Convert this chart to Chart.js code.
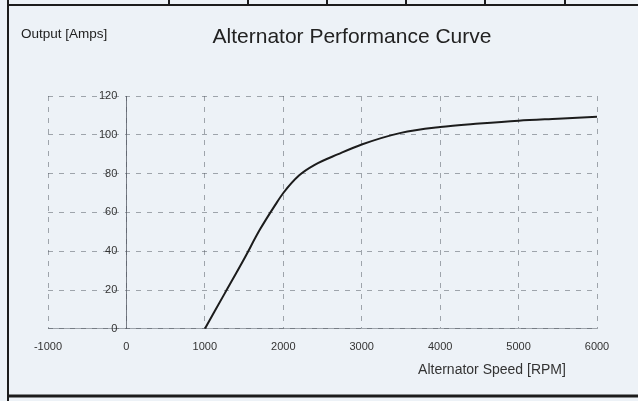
<!DOCTYPE html>
<html>
<head>
<meta charset="utf-8">
<title>Alternator Performance Curve</title>
<script src="https://cdn.jsdelivr.net/npm/chart.js@4.4.1/dist/chart.umd.min.js"></script>
<style>
  html, body { margin: 0; padding: 0; background: #edf2f7; }
  #wrap { width: 638px; height: 401px; position: relative; }
</style>
</head>
<body>
<div id="wrap"><canvas id="altChart" width="638" height="401"></canvas></div>
<script>
// --- data ---
const speedRpm = [1000, 1250, 1500, 1700, 1900, 2000, 2200, 2400, 2700, 3000, 3500, 4000, 4500, 5000, 5500, 6000];
const outputAmps = [0, 18, 36, 51, 64, 70, 79, 84.5, 90, 95, 101, 104, 105.8, 107.3, 108.3, 109.3];

const xTicks = [-1000, 0, 1000, 2000, 3000, 4000, 5000, 6000];
const yTicks = [0, 20, 40, 60, 80, 100, 120];

const paper = '#edf2f7';
const ink = '#1c1c1c';
const gridGray = 'rgba(80, 86, 96, 0.5)';
const labelFont = 'Arial, "Liberation Sans", sans-serif';

// paper background + scanned form frame + free-floating labels
const sheetPlugin = {
    id: 'sheet',
    beforeDraw(chart) {
        const ctx = chart.ctx;
        ctx.save();
        ctx.fillStyle = paper;
        ctx.fillRect(0, 0, chart.width, chart.height);
        ctx.restore();
    },
    afterDraw(chart) {
        const ctx = chart.ctx;
        ctx.save();
        ctx.strokeStyle = ink;

        // left and top edge of the form, with the cell dividers above
        ctx.lineWidth = 2;
        ctx.beginPath();
        ctx.moveTo(8, 0); ctx.lineTo(8, 401);
        ctx.moveTo(8, 5); ctx.lineTo(638, 5);
        [169, 248, 327, 406, 485, 565].forEach(x => {
            ctx.moveTo(x, 0); ctx.lineTo(x, 5);
        });
        ctx.stroke();

        // heavy bottom rule
        ctx.lineWidth = 3;
        ctx.beginPath();
        ctx.moveTo(7, 396); ctx.lineTo(638, 396);
        ctx.stroke();

        // texts
        ctx.fillStyle = '#222';
        ctx.textBaseline = 'middle';
        ctx.textAlign = 'left';
        ctx.font = '13.5px ' + labelFont;
        ctx.fillText('Output [Amps]', 21, 34);

        ctx.textAlign = 'center';
        ctx.font = '21px ' + labelFont;
        ctx.fillText('Alternator Performance Curve', 352, 37);

        ctx.font = '14px ' + labelFont;
        ctx.fillStyle = '#333';
        ctx.fillText('Alternator Speed [RPM]', 492, 370);
        ctx.restore();
    }
};

new Chart(document.getElementById('altChart'), {
    type: 'scatter',
    data: {
        datasets: [{
            label: 'Output',
            data: speedRpm.map((s, i) => ({ x: s, y: outputAmps[i] })),
            showLine: true,
            borderColor: ink,
            borderWidth: 2,
            pointRadius: 0,
            cubicInterpolationMode: 'monotone'
        }]
    },
    options: {
        responsive: false,
        animation: false,
        layout: {
            padding: { left: 48, right: 41, top: 96, bottom: 35 }
        },
        plugins: {
            legend: { display: false },
            tooltip: { enabled: false },
            title: { display: false }
        },
        scales: {
            x: {
                type: 'linear',
                min: xTicks[0],
                max: xTicks[xTicks.length - 1],
                afterBuildTicks: axis => { axis.ticks = xTicks.map(v => ({ value: v })); },
                grid: {
                    color: gridGray,
                    lineWidth: 1,
                    drawTicks: false
                },
                border: { display: true, color: gridGray, dash: [5, 6] },
                ticks: {
                    padding: 12,
                    color: '#333',
                    font: { family: labelFont, size: 11 },
                    maxRotation: 0,
                    callback: v => String(v)
                }
            },
            y: {
                type: 'linear',
                position: { x: 0 },
                min: yTicks[0],
                max: yTicks[yTicks.length - 1],
                afterBuildTicks: axis => { axis.ticks = yTicks.map(v => ({ value: v })); },
                grid: {
                    color: gridGray,
                    lineWidth: 1,
                    drawTicks: false
                },
                border: { display: true, color: 'rgba(80, 86, 96, 0.75)', dash: [5, 6] },
                ticks: {
                    color: '#333',
                    font: { family: labelFont, size: 11 },
                    // labels sit left of the centred axis; trailing gap keeps them off the line
                    callback: v => String(v) + '   '
                }
            }
        }
    },
    plugins: [sheetPlugin]
});
</script>
</body>
</html>
